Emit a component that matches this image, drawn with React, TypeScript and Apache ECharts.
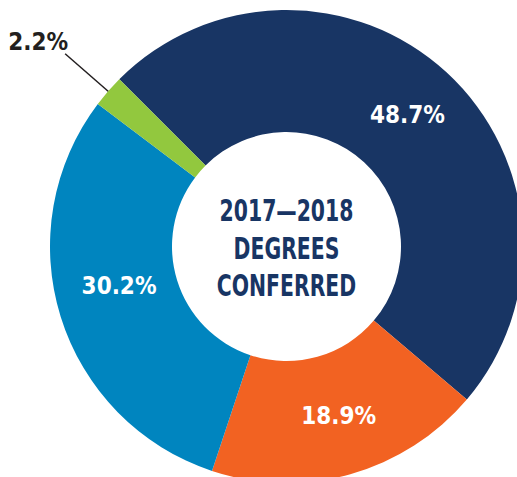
import React, { useEffect, useRef } from "react";
import * as echarts from "echarts";

const categories = ["Navy", "Orange", "Blue", "Green"];
const values = [48.7, 18.9, 30.2, 2.2];
const colors = ["#183564", "#f26222", "#0085bf", "#92c83e"];
const titleLines = ["2017—2018", "DEGREES", "CONFERRED"];

const FONT = '"DejaVu Sans Condensed", "Liberation Sans Narrow", sans-serif';

export default function App() {
  const ref = useRef<HTMLDivElement>(null);
  useEffect(() => {
    if (!ref.current) return;
    const chart = echarts.init(ref.current, undefined, { renderer: "svg" });
    const data = categories.map((name, i) => {
      const small = values[i] < 5;
      const label: any = small
        ? {
            show: true,
            position: "outside",
            color: "#231f20",
            formatter: "{c}%",
            distanceToLabelLine: 0,
          }
        : { show: true, position: "inside", color: "#ffffff", formatter: "{c}%" };
      if (i === 2) label.offset = [3, -14];
      if (i === 1) label.offset = [4, -2];
      return {
        name,
        value: values[i],
        itemStyle: { color: colors[i] },
        label,
        labelLine: small
          ? { show: true, length: 57, length2: 0, lineStyle: { color: "#231f20", width: 1.5 } }
          : { show: false },
      };
    });
    chart.setOption({
      animation: false,
      graphic: [
        {
          type: "text",
          x: 286.5,
          y: 248,
          scaleX: 0.755,
          style: {
            text: titleLines.join("\n"),
            fill: "#183564",
            fontFamily: FONT,
            fontWeight: "bold",
            fontSize: 30,
            lineHeight: 37.5,
            align: "center",
            verticalAlign: "middle",
          },
        },
      ],
      series: [
        {
          type: "pie",
          center: [286.5, 246.5],
          radius: [114.5, 236.5],
          startAngle: 135,
          clockwise: true,
          avoidLabelOverlap: false,
          label: {
            fontFamily: FONT,
            fontWeight: "bold",
            fontSize: 24,
          },
          labelLayout: (params: any) => {
            const pts = params.labelLinePoints;
            if (!pts) return {};
            const p0 = pts[0];
            const p1 = pts[1];
            const dx = p1[0] - p0[0];
            const dy = p1[1] - p0[1];
            const len = Math.hypot(dx, dy) || 1;
            const ux = dx / len;
            const uy = dy / len;
            const start = [p0[0] - ux * 27, p0[1] - uy * 27];
            const end = pts[pts.length - 1];
            return {
              labelLinePoints: [start, end],
              dx: 3,
              dy: -12,
            };
          },
          data,
        },
      ],
    });
    return () => chart.dispose();
  }, []);
  return (
    <div
      ref={ref}
      style={{ position: "fixed", left: 0, top: 0, width: 517, height: 477, background: "#fff" }}
    />
  );
}
